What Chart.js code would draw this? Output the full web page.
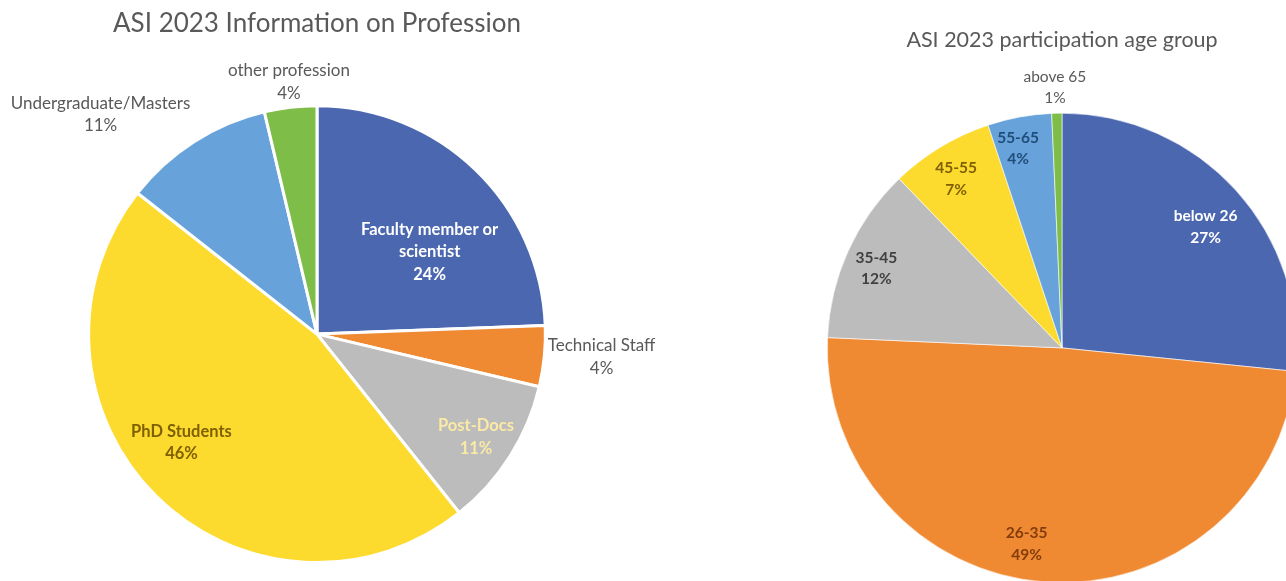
<!DOCTYPE html>
<html>
<head>
<meta charset="utf-8">
<script src="https://cdn.jsdelivr.net/npm/chart.js@4.4.1/dist/chart.umd.min.js"></script>
<style>
  html, body { margin: 0; padding: 0; background: #fff; overflow: hidden; width: 1286px; height: 581px; }
  .box { position: absolute; top: 0; }
</style>
</head>
<body>
<div class="box" style="left:0;width:700px;height:581px"><canvas id="profChart"></canvas></div>
<div class="box" style="left:700px;width:620px;height:620px"><canvas id="ageChart"></canvas></div>
<script>
// Profession shares (%), clockwise from 12 o'clock
var profLabels = [['Faculty member or', 'scientist'], ['Technical Staff'], ['Post-Docs'], ['PhD Students'], ['Undergraduate/Masters'], ['other profession']];
var profValues = [24.4, 4.3, 10.6, 46.3, 10.7, 3.7];

// Age group shares (%)
var ageLabels = [['below 26'], ['26-35'], ['35-45'], ['45-55'], ['55-65'], ['above 65']];
var ageValues = [26.6, 49.1, 12.1, 7.1, 4.4, 0.7];

var sliceColors = ['#4B67AF', '#EF8A33', '#BCBCBC', '#FDDB2E', '#67A3DA', '#7DBD48'];

// label placement: nudge (deg, clockwise) from slice middle and distance as a share of radius
var profPlace = [[10, 0.61], [-1, 1.25], [0.6, 0.83], [6.5, 0.76], [-12, 1.35], [0.3, 1.11]];
var profTextColors = ['#ffffff', '#595959', '#FBE9A6', '#7F6000', '#595959', '#595959'];
var profBold = [true, false, true, true, false, false];

var agePlace = [[2, 0.80], [6.1, 0.85], [-1.2, 0.86], [-0.9, 0.85], [-2, 0.87], [-0.3, 1.11]];
var ageTextColors = ['#ffffff', '#843C0C', '#404040', '#7F6000', '#1F4E79', '#595959'];
var ageBold = [true, true, true, true, true, false];

var sliceLabels = {
  id: 'sliceLabels',
  afterDatasetsDraw: function(chart, args, opts) {
    var ctx = chart.ctx;
    var meta = chart.getDatasetMeta(0);
    var values = chart.data.datasets[0].data;
    var total = values.reduce(function(a, b) { return a + b; }, 0);
    meta.data.forEach(function(arc, i) {
      var p = opts.place[i];
      var mid = (arc.startAngle + arc.endAngle) / 2 + p[0] * Math.PI / 180;
      var r = arc.outerRadius * p[1];
      var x = arc.x + Math.cos(mid) * r;
      var y = arc.y + Math.sin(mid) * r;
      var lines = opts.names[i].concat([Math.round(values[i] / total * 100) + '%']);
      ctx.save();
      ctx.font = opts.bold[i] ? 'bold ' + opts.boldSize + 'px Lato' : opts.size + 'px Lato';
      ctx.fillStyle = opts.colors[i];
      ctx.textAlign = 'center';
      ctx.textBaseline = 'middle';
      lines.forEach(function(t, k) {
        ctx.fillText(t, x, y + (k - (lines.length - 1) / 2) * opts.lineHeight);
      });
      ctx.restore();
    });
  }
};

function makePie(id, names, values, border, pad, title, place, colors, bold, size, boldSize, lh) {
  return new Chart(document.getElementById(id), {
    type: 'pie',
    data: {
      labels: names.map(function(n) { return n.join(' '); }),
      datasets: [{
        data: values,
        backgroundColor: sliceColors,
        borderColor: '#ffffff',
        borderWidth: border
      }]
    },
    options: {
      responsive: true,
      maintainAspectRatio: false,
      animation: false,
      layout: { padding: pad },
      plugins: {
        legend: { display: false },
        tooltip: { enabled: false },
        title: {
          display: true,
          text: title.text,
          color: '#595959',
          font: { family: 'Lato', size: title.size, weight: 'normal' },
          padding: title.padding
        },
        sliceLabels: { names: names, place: place, colors: colors, bold: bold, size: size, boldSize: boldSize, lineHeight: lh }
      }
    },
    plugins: [sliceLabels]
  });
}

makePie('profChart', profLabels, profValues, 3,
  { left: 87, right: 153, top: 0, bottom: 17 },
  { text: 'ASI 2023 Information on Profession', size: 26, padding: { top: 8, bottom: 65 } },
  profPlace, profTextColors, profBold, 17, 16.5, 22.5);

makePie('ageChart', ageLabels, ageValues, 0.6,
  { left: 127, right: 23, top: 0, bottom: 37 },
  { text: 'ASI 2023 participation age group', size: 21.5, padding: { top: 27, bottom: 60 } },
  agePlace, ageTextColors, ageBold, 15.5, 15.5, 21.5);
</script>
</body>
</html>
